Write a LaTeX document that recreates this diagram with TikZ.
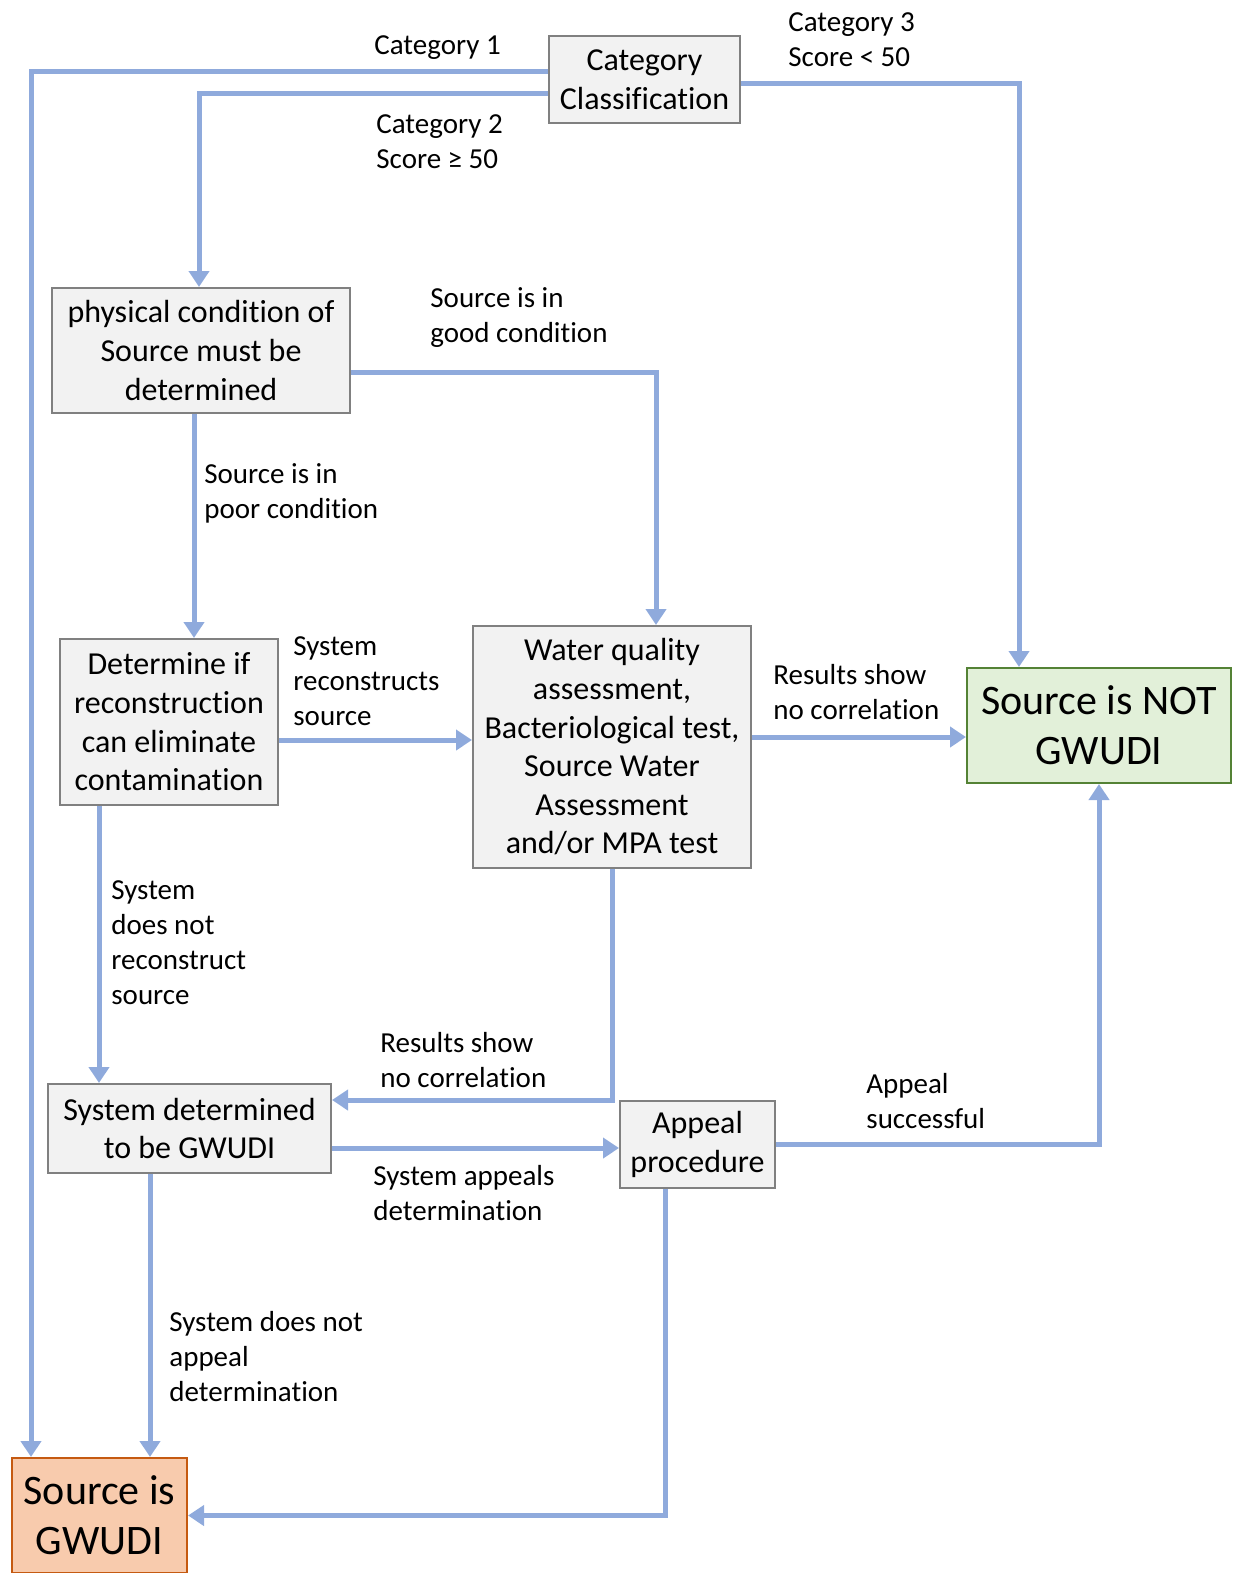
\documentclass[tikz,border=0pt]{standalone}
\usepackage{fontspec}
\setmainfont[Ligatures=NoCommon]{Carlito}
\usetikzlibrary{arrows.meta,calc}

\definecolor{flowblue}{HTML}{8FAADC}
\definecolor{boxfill}{HTML}{F2F2F2}
\definecolor{boxline}{HTML}{808080}
\definecolor{notfill}{HTML}{E2F0D9}
\definecolor{notline}{HTML}{548235}
\definecolor{isfill}{HTML}{F8CBAD}
\definecolor{isline}{HTML}{C55A11}

\begin{document}
\begin{tikzpicture}[x=0.5pt, y=-0.5pt,
	flow/.style={draw=flowblue, line width=2.5pt, -{Triangle[width=10pt,length=8pt]}},
	graybox/.style={draw=boxline, fill=boxfill, line width=1pt, align=center, inner sep=0pt,
		font=\fontsize{16}{19.3}\selectfont},
	notbox/.style={graybox, draw=notline, fill=notfill, font=\fontsize{21}{25}\selectfont},
	isbox/.style={graybox, draw=isline, fill=isfill, font=\fontsize{21}{25}\selectfont},
	lbl/.style={anchor=west, align=left, inner sep=0pt, font=\fontsize{14.5}{17.5}\selectfont}]
				\useasboundingbox (0,0) rectangle (1235,1573);
				% boxes
				\node[graybox, minimum width=95.5pt, minimum height=43.5pt] (cc) at (644.5,79.5) {Category\\Classification};
				\node[graybox, minimum width=149pt, minimum height=62.5pt] (phys) at (201,350.5) {physical condition of\\Source must be\\determined};
				\node[graybox, minimum width=109pt, minimum height=83pt] (det) at (169,722) {Determine if\\reconstruction\\can eliminate\\contamination};
				\node[graybox, minimum width=139pt, minimum height=121pt] (wq) at (612,747) {Water quality\\assessment,\\Bacteriological test,\\Source Water\\Assessment\\and/or MPA test};
				\node[notbox, minimum width=132pt, minimum height=57.5pt] (notg) at (1099,725.5) {Source is NOT\\GWUDI};
				\node[graybox, minimum width=141.5pt, minimum height=44.5pt] (sysd) at (189.5,1128.5) {System determined\\to be GWUDI};
				\node[graybox, minimum width=77.5pt, minimum height=43.5pt] (appeal) at (697.5,1144.5) {Appeal\\procedure};
				\node[isbox, minimum width=87.5pt, minimum height=57.5pt] (gwudi) at (99.5,1515.5) {Source is\\GWUDI};
				
				% connectors from the classification
				\draw[flow] ($(cc.west)+(0,-7.5)$) -| ($(gwudi.north west)+(20,0)$);
				\draw[flow] ($(cc.west)+(0,14.5)$) -| ($(phys.north)+(-2,0)$);
				\draw[flow] ($(cc.east)+(0,4.5)$) -| ($(notg.north west)+(53,0)$);
				
				% connectors in the middle
				\draw[flow] ($(phys.east)+(0,21.5)$) -| ($(wq.north)+(44,0)$);
				\coordinate (p1) at ($(phys.south)+(-7,0)$);
				\draw[flow] (p1) -- (p1 |- det.north);
				\coordinate (p2) at ($(det.east)+(0,18)$);
				\draw[flow] (p2) -- (p2 -| wq.west);
				\coordinate (p3) at ($(wq.east)+(0,-10)$);
				\draw[flow] (p3) -- (p3 -| notg.west);
				\coordinate (p4) at ($(det.south)+(-70,0)$);
				\draw[flow] (p4) -- (p4 |- sysd.north);
				\draw[flow] (wq.south) |- ($(sysd.east)+(0,-28.5)$);
				
				% connectors at the bottom
				\coordinate (p5) at ($(sysd.east)+(0,19.5)$);
				\draw[flow] (p5) -- (p5 -| appeal.west);
				\draw[flow] (appeal.east) -| (notg.south);
				\coordinate (p6) at ($(sysd.south)+(-39.5,0)$);
				\draw[flow] (p6) -- (p6 |- gwudi.north);
				\draw[flow] ($(appeal.south)+(-32.5,0)$) |- (gwudi.east);
				
				% labels
				\node[lbl] (l1) at (374,48) {Category 1};
				\node[lbl] (l2) at (376,141.5) {Category 2\\Score ≥ 50};
				\node[lbl] (l3) at (788,40) {Category 3\\Score < 50};
				\node[lbl] (l4) at (430,317.5) {Source is in\\good condition};
				\node[lbl] (l5) at (204,493.5) {Source is in\\poor condition};
				\node[lbl] (l6) at (293,681) {System\\reconstructs\\source};
				\node[lbl] (l7) at (773,692.5) {Results show\\no correlation};
				\node[lbl] (l8) at (111,942.5) {System\\does not\\reconstruct\\source};
				\node[lbl] (l9) at (380,1060.5) {Results show\\no correlation};
				\node[lbl] (l10) at (373,1193.5) {System appeals\\determination};
				\node[lbl] (l11) at (866,1101.5) {Appeal\\successful};
				\node[lbl] (l12) at (169,1357) {System does not\\appeal\\determination};
			\end{tikzpicture}
\end{document}
